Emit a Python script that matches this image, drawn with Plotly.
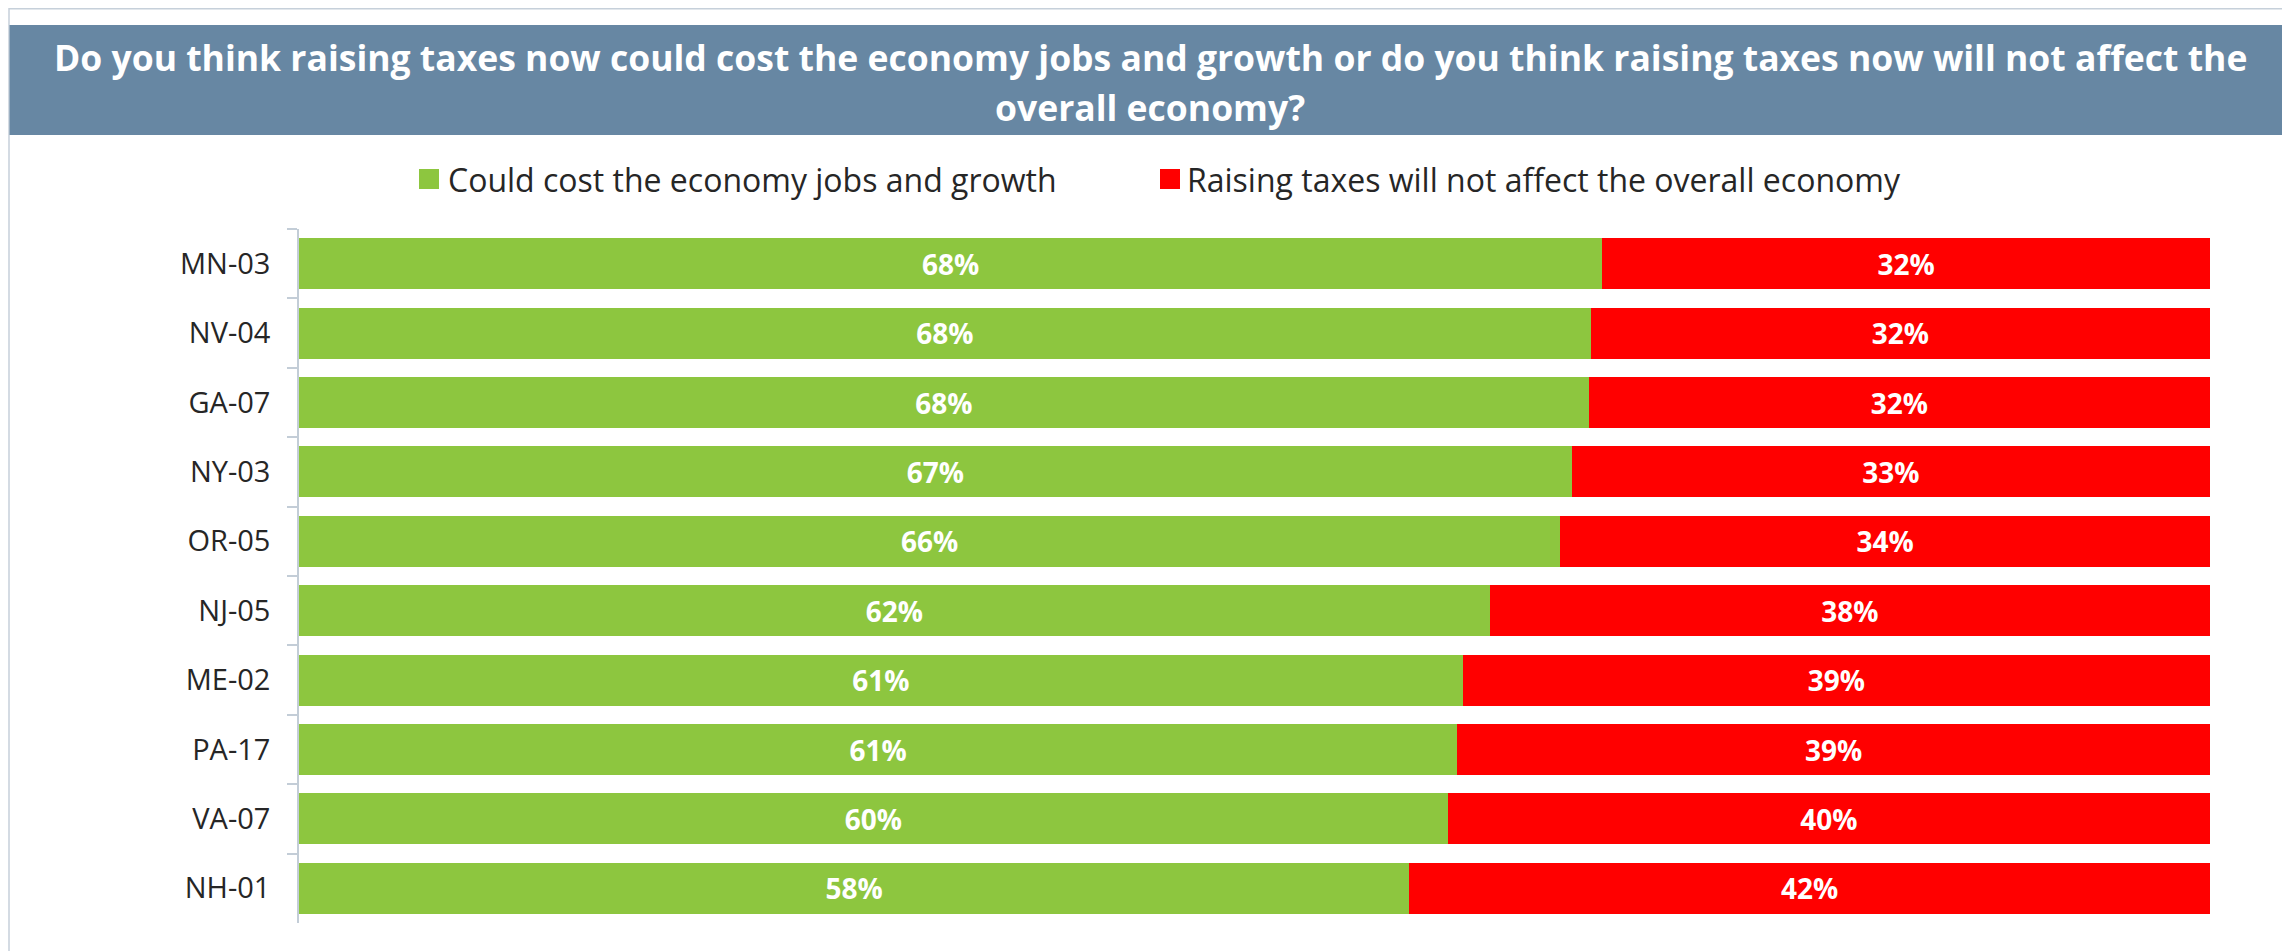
import plotly.graph_objects as go

# ---- data ----
districts = ["MN-03", "NV-04", "GA-07", "NY-03", "OR-05", "NJ-05", "ME-02", "PA-17", "VA-07", "NH-01"]
could_cost = [68.2, 67.6, 67.5, 66.6, 66.0, 62.3, 60.9, 60.6, 60.1, 58.1]
no_effect = [31.8, 32.4, 32.5, 33.4, 34.0, 37.7, 39.1, 39.4, 39.9, 41.9]
series_names = ["Could cost the economy jobs and growth",
                "Raising taxes will not affect the overall economy"]
title_lines = ["Do you think raising taxes now could cost the economy jobs and growth or do you think raising taxes now will not affect the",
               "overall economy?"]

GREEN = "#8DC63F"
RED = "#FF0000"
TITLE_BG = "#6787A3"
TEXT = "#262626"
AXIS = "#C3CDD7"
FONT = "Open Sans"

OFF = 8  # page body margin added by the browser
W, H = 2290 - OFF, 951 - OFF
# plot area in page pixels: x 299..2210, y 229..923
PX0, PX1, PY0, PY1 = 299, 2210, 229, 923
L = PX0 - OFF
R = W - (PX1 - OFF)
T = PY0 - OFF
B = H - (PY1 - OFF)
PW, PH = PX1 - PX0, PY1 - PY0


def pxx(x):
    return (x - PX0) / PW


def pxy(y):
    return (PY1 - y) / PH


fig = go.Figure()
fig.add_trace(go.Bar(
    y=districts, x=could_cost, orientation="h", name=series_names[0],
    marker=dict(color=GREEN, line=dict(width=0)),
    text=[f"{round(v)}%" for v in could_cost], textposition="inside",
    insidetextanchor="middle", constraintext="none",
    textfont=dict(family=FONT, size=28, color="white", weight="bold"),
    showlegend=False, hoverinfo="skip",
))
fig.add_trace(go.Bar(
    y=districts, x=no_effect, orientation="h", name=series_names[1],
    marker=dict(color=RED, line=dict(width=0)),
    text=[f"{round(v)}%" for v in no_effect], textposition="inside",
    insidetextanchor="middle", constraintext="none",
    textfont=dict(family=FONT, size=28, color="white", weight="bold"),
    showlegend=False, hoverinfo="skip",
))

shapes = [
    # page frame
    dict(type="rect", xref="paper", yref="paper", x0=pxx(9), x1=pxx(2320), y0=pxy(980), y1=pxy(OFF + 0.75),
         line=dict(color="#C6D0DA", width=1.5), fillcolor="rgba(0,0,0,0)", layer="below"),
    # title bar
    dict(type="rect", xref="paper", yref="paper", x0=pxx(9.5), x1=pxx(2320), y0=pxy(135), y1=pxy(25),
         line=dict(width=0), fillcolor=TITLE_BG, layer="below"),
    # legend squares
    dict(type="rect", xref="paper", yref="paper", x0=pxx(419), x1=pxx(439), y0=pxy(189), y1=pxy(169),
         line=dict(width=0), fillcolor=GREEN),
    dict(type="rect", xref="paper", yref="paper", x0=pxx(1160), x1=pxx(1180), y0=pxy(189), y1=pxy(169),
         line=dict(width=0), fillcolor=RED),
]

annotations = [
    dict(text=title_lines[0], xref="paper", yref="paper", x=pxx(1150), y=pxy(57),
         xanchor="center", yanchor="middle", showarrow=False,
         font=dict(family=FONT, size=35.5, color="white", weight="bold")),
    dict(text=title_lines[1], xref="paper", yref="paper", x=pxx(1150), y=pxy(107),
         xanchor="center", yanchor="middle", showarrow=False,
         font=dict(family=FONT, size=35.5, color="white", weight="bold")),
    dict(text=series_names[0], xref="paper", yref="paper", x=pxx(446), y=pxy(179),
         xanchor="left", yanchor="middle", showarrow=False,
         font=dict(family=FONT, size=32, color=TEXT)),
    dict(text=series_names[1], xref="paper", yref="paper", x=pxx(1185), y=pxy(179),
         xanchor="left", yanchor="middle", showarrow=False,
         font=dict(family=FONT, size=32, color=TEXT)),
]

fig.update_layout(
    width=W, height=H,
    margin=dict(l=L, r=R, t=T, b=B, pad=0),
    paper_bgcolor="white", plot_bgcolor="white",
    barmode="stack", bargap=0.265,
    shapes=shapes, annotations=annotations,
    xaxis=dict(range=[0, 100], visible=False, fixedrange=True),
    yaxis=dict(autorange="reversed", showline=True, linecolor=AXIS, linewidth=1.5,
               ticks="outside", tickson="boundaries", ticklen=10, tickcolor=AXIS, tickwidth=1.5,
               ticklabelstandoff=21, showgrid=False, zeroline=False,
               tickfont=dict(family=FONT, size=29, color=TEXT)),
    font=dict(family=FONT),
)

fig.write_html("out.html")
